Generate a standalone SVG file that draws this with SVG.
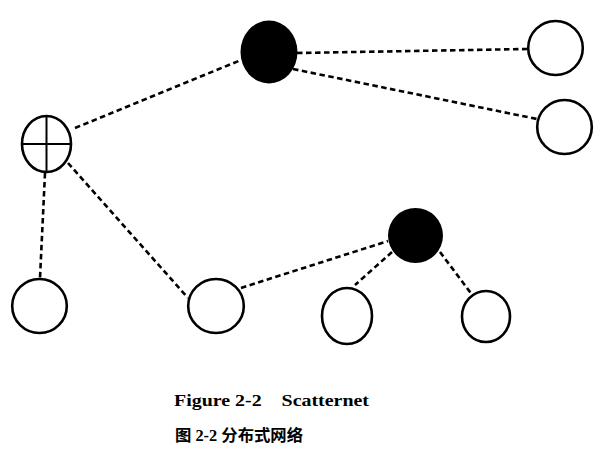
<svg xmlns="http://www.w3.org/2000/svg" width="606" height="458" viewBox="0 0 606 458">
<style>
.node{fill:#fff;stroke:#000;stroke-width:2.6}
.dark{fill:#000;stroke:none}
.link{stroke:#000;stroke-width:2.6;stroke-dasharray:5.5 3.5;fill:none}
.cross{stroke:#000;stroke-width:2}
.en{font-family:"Liberation Serif","Times New Roman",serif;font-weight:bold;font-size:17px}
.zh{font-family:"Liberation Serif","Noto Sans CJK SC",sans-serif;font-weight:bold;font-size:16px}
</style>
<rect width="606" height="458" fill="#fff"/>
<g id="connectors">
<line class="link" x1="75" y1="128" x2="241" y2="60"/>
<line class="link" x1="297" y1="53" x2="527" y2="49"/>
<line class="link" x1="293" y1="69" x2="537" y2="119"/>
<line class="link" x1="45" y1="173" x2="40" y2="278"/>
<line class="link" x1="68" y1="163" x2="188" y2="298"/>
<line class="link" x1="241" y1="288" x2="388" y2="241"/>
<line class="link" x1="392" y1="252" x2="355" y2="285"/>
<line class="link" x1="440" y1="252" x2="473" y2="296"/>
</g>
<g id="master1"><ellipse class="dark" cx="269" cy="52" rx="28.5" ry="31.5"/></g>
<g id="bridge">
<ellipse class="node" cx="46.5" cy="144" rx="24.5" ry="28"/>
<line class="cross" x1="46.5" y1="116" x2="46.5" y2="172"/>
<line class="cross" x1="22" y1="144" x2="71" y2="144"/>
</g>
<g id="slave1"><ellipse class="node" cx="555.5" cy="48" rx="27.3" ry="27"/></g>
<g id="slave2"><ellipse class="node" cx="564.5" cy="127" rx="27.3" ry="27"/></g>
<g id="slave3"><ellipse class="node" cx="39.5" cy="306" rx="27.3" ry="27"/></g>
<g id="slave4"><ellipse class="node" cx="216" cy="306" rx="27.8" ry="27"/></g>
<g id="master2"><ellipse class="dark" cx="415.5" cy="235.5" rx="27.5" ry="27.5"/></g>
<g id="slave5"><ellipse class="node" cx="347" cy="316" rx="25" ry="28"/></g>
<g id="slave6"><ellipse class="node" cx="486" cy="316.5" rx="24" ry="25.5"/></g>
<g id="caption">
<text class="en" x="174" y="406" textLength="195" lengthAdjust="spacingAndGlyphs" xml:space="preserve">Figure 2-2    Scatternet</text>
<text class="zh" x="175" y="441" textLength="128" lengthAdjust="spacingAndGlyphs" xml:space="preserve">图 2-2 分布式网络</text>
</g>
</svg>
